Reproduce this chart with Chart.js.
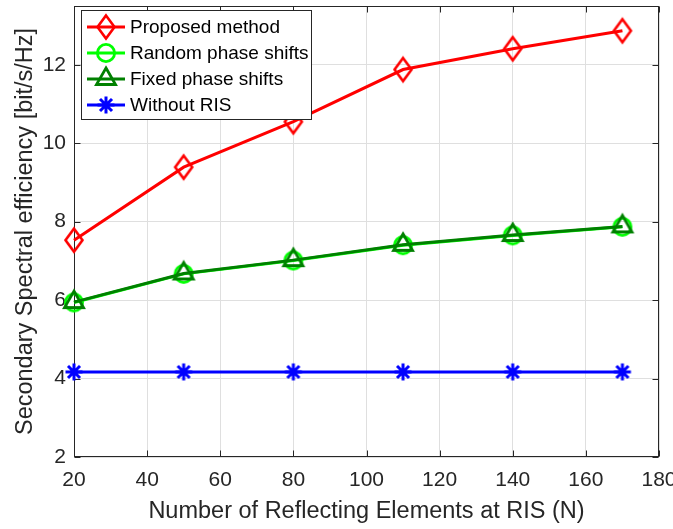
<!DOCTYPE html>
<html>
<head>
<meta charset="utf-8">
<script src="https://cdn.jsdelivr.net/npm/chart.js@4/dist/chart.umd.min.js"></script>
<style>
  html, body { margin: 0; padding: 0; background: #fff; }
  #wrap { width: 673px; height: 529px; }
</style>
</head>
<body>
<div id="wrap"><canvas id="c" width="673" height="529"></canvas></div>
<script>
// Number of reflecting elements
const elements = [20, 50, 80, 110, 140, 170];

// Secondary spectral efficiency [bit/s/Hz]
const proposed   = [7.53, 9.39, 10.55, 11.88, 12.41, 12.87];
const randomPh   = [5.94, 6.67, 7.01, 7.40, 7.65, 7.87];
const fixedPh    = [5.95, 6.68, 7.02, 7.41, 7.66, 7.88];
const withoutRIS = [4.17, 4.17, 4.17, 4.17, 4.17, 4.17];

const seriesNames = ['Proposed method', 'Random phase shifts', 'Fixed phase shifts', 'Without RIS'];

// Axis ticks
const xTicks = [20, 40, 60, 80, 100, 120, 140, 160, 180];
const yTicks = [2, 4, 6, 8, 10, 12];

const AXIS_COLOR = '#262626';
const GRID_COLOR = '#dfdfdf';
const FONT = '"Liberation Sans", Arial, sans-serif';

// Marker glyphs rendered once to small canvases
function marker(kind, color) {
  const s = 32, m = s / 2;
  const c = document.createElement('canvas');
  c.width = s; c.height = s;
  const g = c.getContext('2d');
  g.strokeStyle = color;
  g.lineJoin = 'miter';
  g.beginPath();
  if (kind === 'diamond') {
    g.lineWidth = 2.6;
    g.moveTo(m, m - 11.5); g.lineTo(m + 8.5, m); g.lineTo(m, m + 11.5); g.lineTo(m - 8.5, m);
    g.closePath();
  } else if (kind === 'circle') {
    g.lineWidth = 2.8;
    g.arc(m, m, 8.6, 0, Math.PI * 2);
  } else if (kind === 'triangle') {
    g.lineWidth = 2.8;
    const r = 11;
    g.moveTo(m, m - r);
    g.lineTo(m + r * 0.866, m + r * 0.5);
    g.lineTo(m - r * 0.866, m + r * 0.5);
    g.closePath();
  } else if (kind === 'star') {
    g.lineWidth = 3;
    const r = 8.5, d = r * 0.7071;
    g.moveTo(m - r, m); g.lineTo(m + r, m);
    g.moveTo(m, m - r); g.lineTo(m, m + r);
    g.moveTo(m - d, m - d); g.lineTo(m + d, m + d);
    g.moveTo(m - d, m + d); g.lineTo(m + d, m - d);
  }
  g.stroke();
  return c;
}

const markers = [
  marker('diamond', '#ff0000'),
  marker('circle', '#00ff00'),
  marker('triangle', '#008000'),
  marker('star', '#0000ff')
];
const colors = ['#ff0000', '#00ff00', '#008000', '#0000ff'];
const values = [proposed, randomPh, fixedPh, withoutRIS];
const orders = [4, 3, 2, 1];

const datasets = values.map((v, i) => ({
  label: seriesNames[i],
  data: elements.map((x, j) => ({ x: x, y: v[j] })),
  borderColor: colors[i],
  backgroundColor: colors[i],
  borderWidth: 3,
  pointStyle: markers[i],
  pointRadius: 10,
  pointHoverRadius: 10,
  tension: 0,
  order: orders[i],
  clip: false,
  fill: false
}));

// Axes box with inward tick marks
const boxPlugin = {
  id: 'axesBox',
  beforeDatasetsDraw(chart) {
    const { ctx, chartArea: a, scales } = chart;
    ctx.save();
    ctx.strokeStyle = AXIS_COLOR;
    ctx.lineWidth = 1;
    const L = Math.round(a.left) + 0.5, R = Math.round(a.right) - 0.5;
    const T = Math.round(a.top) + 0.5, B = Math.round(a.bottom) - 0.5;
    ctx.strokeRect(L, T, R - L, B - T);
    const tl = 6;
    ctx.beginPath();
    xTicks.forEach(v => {
      const px = Math.round(scales.x.getPixelForValue(v)) + 0.5;
      ctx.moveTo(px, B); ctx.lineTo(px, B - tl);
      ctx.moveTo(px, T); ctx.lineTo(px, T + tl);
    });
    yTicks.forEach(v => {
      const py = Math.round(scales.y.getPixelForValue(v)) + 0.5;
      ctx.moveTo(L, py); ctx.lineTo(L + tl, py);
      ctx.moveTo(R, py); ctx.lineTo(R - tl, py);
    });
    ctx.stroke();
    ctx.restore();
  }
};

// Legend box in the upper-left corner of the plot area
const legendPlugin = {
  id: 'insetLegend',
  afterDatasetsDraw(chart) {
    const { ctx, chartArea: a } = chart;
    const x0 = Math.round(a.left) + 7.5, y0 = Math.round(a.top) + 4.5;
    const w = 230, h = 109, rowH = 26.3, firstRow = 16;
    ctx.save();
    ctx.fillStyle = '#ffffff';
    ctx.fillRect(x0, y0, w, h);
    ctx.strokeStyle = AXIS_COLOR;
    ctx.lineWidth = 1;
    ctx.strokeRect(x0, y0, w, h);
    ctx.font = '19px ' + FONT;
    ctx.textBaseline = 'middle';
    ctx.textAlign = 'left';
    chart.data.datasets.forEach((ds, i) => {
      const y = Math.round(y0 + firstRow + i * rowH);
      const lx = x0 + 5.5;
      ctx.strokeStyle = ds.borderColor;
      ctx.lineWidth = 3;
      ctx.beginPath();
      ctx.moveTo(lx, y); ctx.lineTo(lx + 38, y);
      ctx.stroke();
      ctx.drawImage(markers[i], Math.round(lx + 19 - 16), y - 16);
      ctx.fillStyle = '#000000';
      ctx.fillText(ds.label, lx + 43, y + 1);
    });
    ctx.restore();
  }
};

new Chart(document.getElementById('c'), {
  type: 'line',
  data: { datasets: datasets },
  options: {
    responsive: false,
    animation: false,
    events: [],
    layout: { autoPadding: false, padding: { top: 6, right: 14, left: 0, bottom: 0 } },
    plugins: { legend: { display: false }, tooltip: { enabled: false } },
    scales: {
      x: {
        type: 'linear',
        min: 20, max: 180,
        afterBuildTicks(s) { s.ticks = xTicks.map(v => ({ value: v })); },
        afterFit(s) { s.height = 72; s.paddingLeft = 0; s.paddingRight = 0; },
        grid: { color: GRID_COLOR, drawTicks: false },
        border: { display: false },
        ticks: { color: AXIS_COLOR, font: { family: FONT, size: 21 }, padding: 11, maxRotation: 0, autoSkip: false },
        title: {
          display: true,
          text: 'Number of Reflecting Elements at RIS (N)',
          color: AXIS_COLOR,
          font: { family: FONT, size: 23.5 },
          padding: { top: 0, bottom: 3.5 }
        }
      },
      y: {
        type: 'linear',
        min: 2, max: 13.5,
        afterBuildTicks(s) { s.ticks = yTicks.map(v => ({ value: v })); },
        afterFit(s) { s.width = 74; s.paddingTop = 0; s.paddingBottom = 0; },
        grid: { color: GRID_COLOR, drawTicks: false },
        border: { display: false },
        ticks: { color: AXIS_COLOR, font: { family: FONT, size: 21 }, padding: 8, autoSkip: false },
        title: {
          display: true,
          text: 'Secondary Spectral efficiency [bit/s/Hz]',
          color: AXIS_COLOR,
          font: { family: FONT, size: 23.5 },
          padding: { top: 11, bottom: 0 }
        }
      }
    }
  },
  plugins: [boxPlugin, legendPlugin]
});
</script>
</body>
</html>
